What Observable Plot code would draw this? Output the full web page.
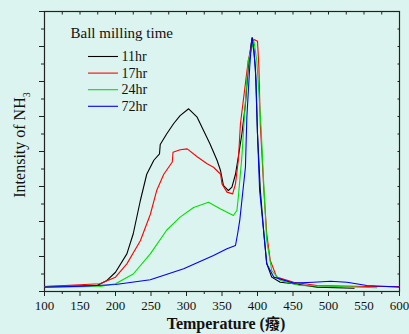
<!DOCTYPE html>
<html><head><meta charset="utf-8">
<script src="https://cdn.jsdelivr.net/npm/d3@7"></script>
<script src="https://cdn.jsdelivr.net/npm/@observablehq/plot@0.6"></script>
<style>
body{margin:0;background:#dcf4ef;}
#wrap{position:relative;width:409px;height:334px;overflow:hidden;font-family:"Liberation Serif","Times New Roman",serif;color:#111;}
#ylab{position:absolute;left:22px;top:145px;transform:translate(-50%,-50%) rotate(-90deg);white-space:nowrap;font-size:16px;line-height:1;}
#ylab sub{font-size:10px;}
#xlab{position:absolute;left:226px;top:323px;transform:translate(-50%,-50%);white-space:nowrap;font-size:16px;font-weight:bold;line-height:1;}
</style></head>
<body><div id="wrap"><div id="ylab">Intensity of NH<sub>3</sub></div><div id="xlab">Temperature (<span style="font-family:'Noto Sans CJK TC';font-size:15px;">癈</span>)</div></div>
<script>
const series = ["11hr","17hr","24hr","72hr"];
const colors = ["#000000","#ff0000","#00e000","#0000ff"];
const t11 = [100,174,188,200,216,225,235,244,254,262,263,272,282,291,303,315,324,333,343,348,352,359,364,369,373,378,383,387,391,393,397,400,404,409,413,420,432,451,484,536];
const v11 = [0.29,0.34,0.63,1.1,2.15,3.3,5.2,6.7,7.5,7.87,8.4,9.0,9.6,10.05,10.44,9.96,9.2,8.44,7.5,6.9,6.06,5.77,5.96,6.7,7.7,9.0,10.7,12.8,14.15,14.5,12.8,9.0,5.77,3.3,1.6,0.82,0.53,0.44,0.25,0.19];
const t17 = [100,178,200,216,235,249,258,268,280,281,291,301,315,329,338,348,350,357,365,369,373,376,383,387,392,395,400,402,404,409,413,418,427,451,484,554,600];
const v17 = [0.29,0.44,0.82,1.58,2.9,4.4,5.77,6.7,7.4,7.96,8.1,8.15,7.7,7.3,7.1,6.7,6.15,5.68,5.58,6.15,7.5,9.6,11.9,13.2,14.15,14.4,14.3,12.8,9.5,5.77,3.3,1.77,0.82,0.53,0.34,0.29,0.29];
const t24 = [100,178,200,225,249,272,291,310,331,348,366,371,373,378,383,387,395,399,405,409,413,420,432,460,568];
const v24 = [0.25,0.29,0.44,1.0,2.15,3.5,4.25,4.8,5.1,4.72,4.34,4.63,5.4,7.7,10.9,13.2,14.3,13.2,9.4,5.96,2.9,1.2,0.63,0.34,0.21];
const t72 = [100,155,200,249,296,338,357,369,372,375,378,383,385,389,392,395,398,400,403,409,413,423,451,479,503,526,554,600];
const v72 = [0.25,0.3,0.4,0.67,1.3,2.06,2.44,2.63,3.3,4.06,5.2,7.1,9.96,12.8,14.5,13.8,12.06,9.0,5.77,3.3,1.58,0.82,0.48,0.53,0.59,0.53,0.34,0.25];
const xTicks = [100,150,200,250,300,350,400,450,500,550,600];

const T = [t11,t17,t24,t72], V = [v11,v17,v24,v72];
const data = series.flatMap((s,i)=>T[i].map((t,j)=>({s, t, v: V[i][j]})));
const font = "Liberation Serif, Times New Roman, serif";
const mTop = 11, legDy = 45, legStep = 16.6;

const plot = Plot.plot({
  width: 409, height: 334,
  marginLeft: 44, marginRight: 10, marginTop: mTop, marginBottom: 43,
  style: {background: "transparent", fontFamily: font, fontSize: "13px", color: "#111"},
  x: {domain: [100,600]},
  y: {domain: [0,16]},
  color: {domain: series, range: colors},
  marks: [
    Plot.axisX({ticks: xTicks, tickSize: 5, tickPadding: 4, fontSize: 13, label: null, stroke: "#222"}),
    Plot.axisX({ticks: d3.range(125,600,50), tickSize: 3, text: null, label: null, stroke: "#222"}),
    Plot.axisX({anchor: "top", ticks: d3.range(125,600,25), tickSize: -2.5, text: null, label: null, stroke: "#222"}),
    Plot.axisY({ticks: d3.range(0,17,2), tickSize: 5, text: null, label: null, stroke: "#222"}),
    Plot.axisY({ticks: d3.range(1,16,2), tickSize: 3, text: null, label: null, stroke: "#222"}),
    Plot.axisY({anchor: "right", ticks: d3.range(1,16,1), tickSize: -2.5, text: null, label: null, stroke: "#222"}),
    Plot.frame({stroke: "#222", strokeWidth: 1.2}),
    Plot.line(data, {x: "t", y: "v", z: "s", stroke: "s", strokeWidth: 1.1}),
    Plot.text(["Ball milling time"], {frameAnchor: "top-left", lineAnchor: "middle", dx: 26, dy: 22, fontSize: 15, textAnchor: "start", fill: "#111"}),
    ...series.map((s,i)=>Plot.text([s], {frameAnchor: "top-left", lineAnchor: "middle", dx: 77, dy: legDy + i*legStep, fontSize: 14, textAnchor: "start", fill: "#111"}))
  ]
});
const wrap = document.getElementById("wrap");
wrap.prepend(plot);
plot.style.position = "absolute"; plot.style.left = "0"; plot.style.top = "0";
// legend swatches next to the legend labels
series.forEach((s, i) => {
  const y = mTop + legDy + i * legStep + 0.5;
  d3.select(plot).append("line").attr("x1", 88).attr("x2", 118).attr("y1", y).attr("y2", y)
    .attr("stroke", colors[i]).attr("stroke-width", 1.1);
});
</script></body></html>
